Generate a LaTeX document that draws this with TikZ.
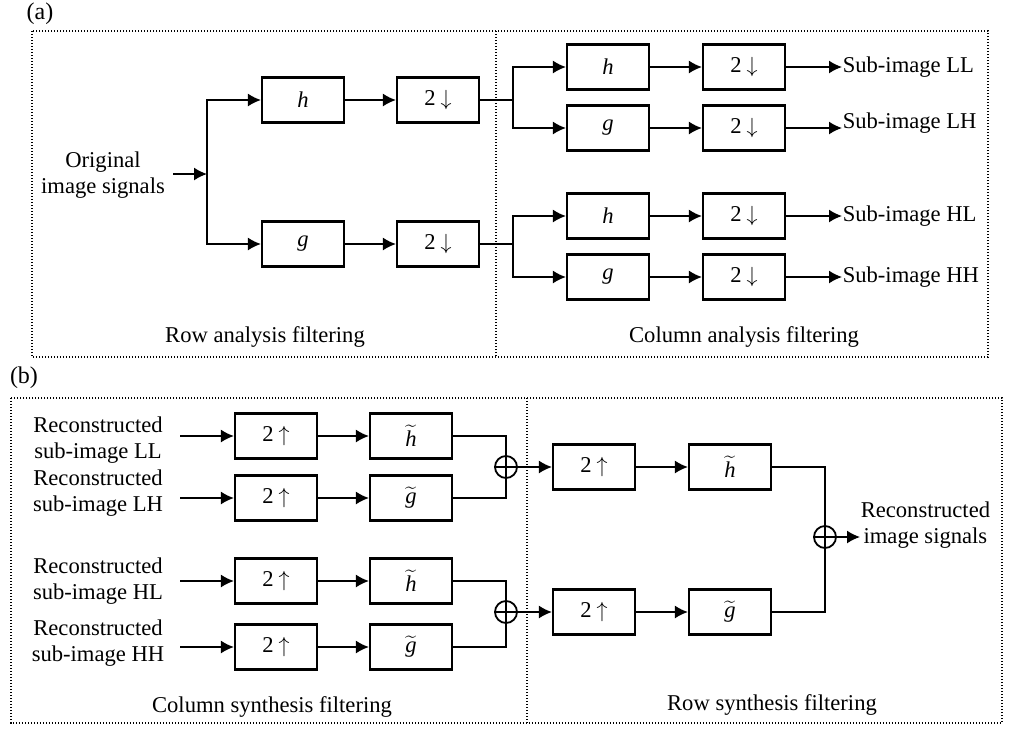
\documentclass[tikz,border=0pt]{standalone}
\usepackage{fontspec}
\setmainfont{Liberation Serif}
\usetikzlibrary{arrows.meta}
\tikzstyle{block} = [draw, fill=white, rectangle, line width=1.1pt,
    minimum height=22.5pt, minimum width=41pt, inner sep=0pt]
\tikzstyle{sum} = [draw, circle, line width=0.9pt, minimum size=11pt, inner sep=0pt,
    path picture={\draw (path picture bounding box.north) -- (path picture bounding box.south)
      (path picture bounding box.west) -- (path picture bounding box.east);}]
\tikzstyle{txt} = [align=center, inner sep=0pt]
\tikzstyle{zone} = [line width=0.8pt, dash pattern=on 0.7pt off 0.8pt]
\tikzstyle{input} = [coordinate]
\newcommand{\dn}{2\kern2.5pt$\downarrow$}
\newcommand{\up}{2\kern2.5pt$\uparrow$}

\begin{document}
\begin{tikzpicture}[x=0.5pt, y=-0.5pt, line width=0.8pt,
    >={Latex[length=6.5pt,width=6.5pt]}, font=\fontsize{11.3pt}{12.8pt}\selectfont]
    \useasboundingbox (0,0) rectangle (1019,730);
    % (a) analysis part
    \node [txt, font=\fontsize{12pt}{13pt}\selectfont] (capa) at (40,14) {(a)};
    \draw [zone] (32,31) rectangle (988,357);
    \draw [zone] (496,31) -- (496,357);
    \node [txt] (orig) at (103,175) {Original\\image signals};
    \node [input] (in) at (173,174) {};
    \node [input] (fork) at (207,174) {};
    \node [block] (h1) at (303,100) {\textit{h}};
    \node [block] (g1) at (303,244) {\textit{g}};
    \node [block] (d1) at (438,100) {\dn};
    \node [block] (d2) at (438,244) {\dn};
    \node [input] (s1) at (513,100) {};
    \node [input] (s2) at (513,244) {};
    % row filters, then split
    \draw [->] (in) -- (fork);
    \draw [->] (fork) |- (h1);
    \draw [->] (fork) |- (g1);
    \draw [->] (h1) -- (d1);
    \draw [->] (g1) -- (d2);
    \draw (d1) -- (s1);
    \draw (d2) -- (s2);
    % column filters
    \foreach \n/\y/\f/\dy in {LL/67/h/0, LH/128/g/-5, HL/216/h/0, HH/277/g/0} {
        \node [block] (c\n) at (608,\y) {\textit{\f}};
        \node [block] (e\n) at (744,\y) {\dn};
        \node [txt, anchor=west] (o\n) at (842,\y+\dy) {Sub-image \n};
        \draw [->] (c\n) -- (e\n);
        \draw [->] (e\n) -- (e\n.east -| o\n.west);
    }
    \draw [->] (s1) |- (cLL);
    \draw [->] (s1) |- (cLH);
    \draw [->] (s2) |- (cHL);
    \draw [->] (s2) |- (cHH);
    \node [txt] (rowa) at (265,337) {Row analysis filtering};
    \node [txt] (cola) at (744,337) {Column analysis filtering};

    % (b) synthesis part
    \node [txt, font=\fontsize{12pt}{13pt}\selectfont] (capb) at (24,378) {(b)};
    \draw [zone] (11,398) rectangle (1002,723);
    \draw [zone] (527,398) -- (527,723);
    \foreach \n/\y/\f/\dy in {LL/436/h/4, LH/498/g/-5, HL/581/h/0, HH/647/g/-4} {
        \node [txt] (r\n) at (98,\y+\dy) {Reconstructed\\sub-image \n};
        \node [input] (i\n) at (180,\y) {};
        \node [block] (u\n) at (276,\y) {\up};
        \node [block] (t\n) at (411,\y) {$\widetilde{\textit{\f}}$};
        \draw [->] (i\n) -- (u\n);
        \draw [->] (u\n) -- (t\n);
    }
    \node [sum] (p1) at (506,467) {};
    \node [sum] (p2) at (506,612) {};
    \draw (tLL) -| (p1);
    \draw (tLH) -| (p1);
    \draw (tHL) -| (p2);
    \draw (tHH) -| (p2);
    % row synthesis
    \node [block] (u5) at (594,467) {\up};
    \node [block] (t5) at (730,467) {$\widetilde{\textit{h}}$};
    \node [block] (u6) at (594,612) {\up};
    \node [block] (t6) at (730,612) {$\widetilde{\textit{g}}$};
    \draw [->] (p1) -- (u5);
    \draw [->] (u5) -- (t5);
    \draw [->] (p2) -- (u6);
    \draw [->] (u6) -- (t6);
    \node [sum] (p3) at (825,537) {};
    \draw (t5) -| (p3);
    \draw (t6) -| (p3);
    \node [txt, anchor=west] (rec) at (860,525) {Reconstructed\\image signals};
    \draw [->] (p3) -- (p3 -| rec.west);
    \node [txt] (colb) at (272,707) {Column synthesis filtering};
    \node [txt] (rowb) at (772,705) {Row synthesis filtering};
\end{tikzpicture}
\end{document}
